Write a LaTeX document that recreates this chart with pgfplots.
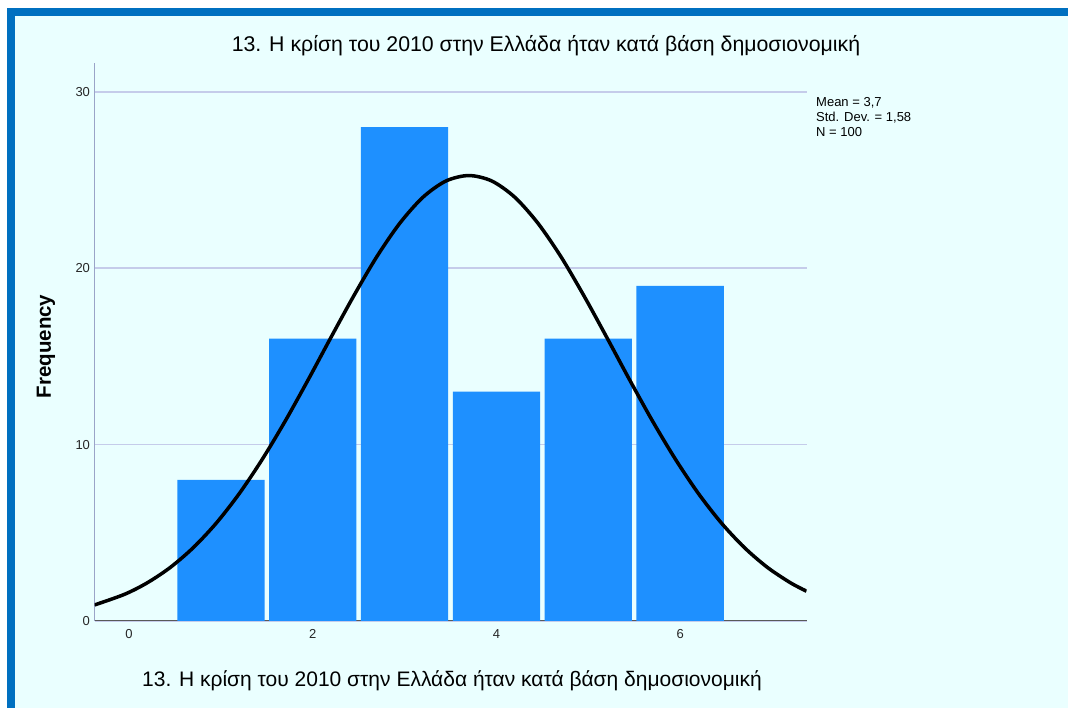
\documentclass[border=0pt]{standalone}
\usepackage{fontspec}
\setmainfont{Liberation Sans}
\usepackage{pgfplots}
\pgfplotsset{compat=1.18}

\definecolor{bgc}{HTML}{EAFFFF}
\definecolor{framec}{HTML}{0070C0}
\definecolor{barc}{HTML}{1E90FF}
\definecolor{gridc}{HTML}{C5CCEA}
\definecolor{yaxc}{HTML}{9AA4C8}

\begin{document}
\begin{tikzpicture}[x=1pt,y=1pt]
\useasboundingbox (0,0) rectangle (1068,708);
\fill[white] (0,0) rectangle (1068,708);
\fill[bgc] (15,0) rectangle (1068,692);
\fill[framec] (7,0) rectangle (15,700);
\fill[framec] (7,692) rectangle (1068,700);

\begin{axis}[
  at={(94.5pt,87pt)}, anchor=south west,
  scale only axis, width=712pt, height=558pt,
  xmin=-0.376, xmax=7.376, ymin=0, ymax=31.63,
  axis x line*=bottom, axis y line*=left,
  x axis line style={-, draw=black!65, line width=1pt},
  y axis line style={-, draw=yaxc, line width=1pt},
  xtick={0,2,4,6}, ytick={0,10,20,30},
  major tick length=0pt,
  ymajorgrids, grid style={draw=gridc, line width=1.8pt},
  tick label style={font=\fontsize{13}{15}\selectfont, text=black!85},
  /pgf/number format/assume math mode=true,
  xticklabel style={yshift=-5pt},
  yticklabel style={xshift=-1pt},
]
\addplot[ybar, bar width=0.95, fill=barc, draw=none] coordinates {
  (1,8) (2,16) (3,28) (4,13) (5,16) (6,19)
};
\addplot[black, line width=3.5pt, smooth, no marks] coordinates {
  (-0.376,0.91) (-0.05,1.51) (0.2,2.17) (0.45,3.04) (0.7,4.16) (0.95,5.55)
  (1.2,7.22) (1.45,9.16) (1.7,11.33) (1.95,13.67) (2.2,16.09) (2.45,18.46)
  (2.7,20.67) (2.95,22.56) (3.2,24.02) (3.45,24.94) (3.7,25.25) (3.95,24.94)
  (4.2,24.02) (4.45,22.56) (4.7,20.67) (4.95,18.46) (5.2,16.09) (5.45,13.67)
  (5.7,11.33) (5.95,9.16) (6.2,7.22) (6.45,5.55) (6.7,4.16) (6.95,3.04)
  (7.2,2.17) (7.376,1.69)
};
\end{axis}

\node[font=\fontsize{21.3}{25}\selectfont] at (546,662) {13. Η κρίση του 2010 στην Ελλάδα ήταν κατά βάση δημοσιονομική};
\node[font=\fontsize{21}{25}\selectfont] at (452,27) {13. Η κρίση του 2010 στην Ελλάδα ήταν κατά βάση δημοσιονομική};
\node[font=\bfseries\fontsize{20.5}{24}\selectfont, rotate=90] at (46,361.5) {Frequency};
\node[anchor=north west, align=left, inner sep=0pt, font=\fontsize{13}{15.3}\selectfont] at (816,611) {Mean = 3,7\\Std. Dev. = 1,58\\N = 100};
\end{tikzpicture}
\end{document}
